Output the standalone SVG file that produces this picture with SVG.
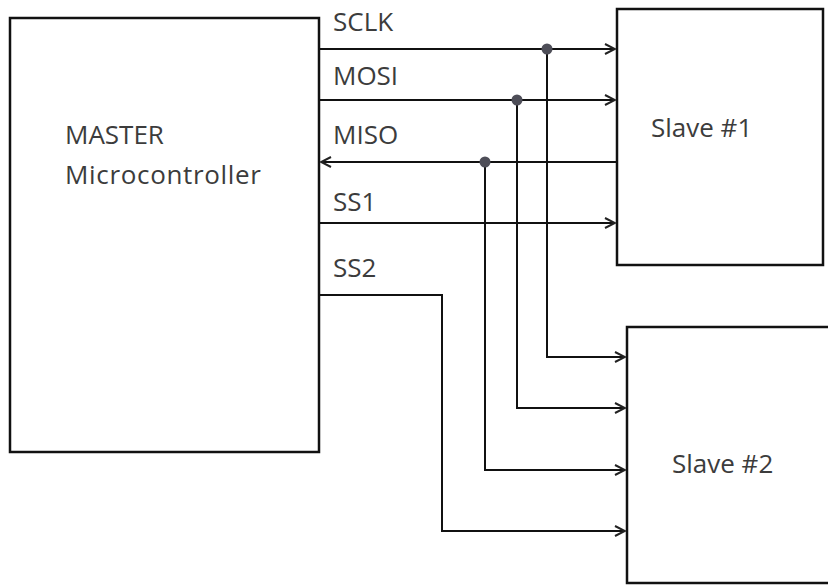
<svg xmlns="http://www.w3.org/2000/svg" width="828" height="588" viewBox="0 0 828 588">
<defs>
<marker id="arr" viewBox="0 0 12 12" refX="11" refY="6" markerWidth="12" markerHeight="12" markerUnits="userSpaceOnUse" orient="auto">
<path d="M1,1 L11,6 L1,11" fill="none" stroke="#222" stroke-width="2"/>
</marker>
</defs>
<style>
.box{fill:#fff;stroke:#111;stroke-width:2.5}
.w{fill:none;stroke:#111;stroke-width:2}
.t{font-family:"Open Sans","Liberation Sans",sans-serif;font-size:26px;fill:#3c3c3c}
.dot{fill:#4e4e58}
</style>
<rect width="828" height="588" fill="#fff"/>
<g id="master">
<rect class="box" x="10" y="18" width="309" height="434"/>
<text class="t" x="65" y="144">MASTER</text>
<text class="t" x="65" y="184" textLength="196">Microcontroller</text>
</g>
<g id="slave1">
<rect class="box" x="617" y="9" width="206" height="256"/>
<text class="t" x="651" y="137">Slave #1</text>
</g>
<g id="slave2">
<rect class="box" x="627" y="327" width="210" height="256"/>
<text class="t" x="672" y="473">Slave #2</text>
</g>
<g id="connectors">
<path class="w" d="M319,49 H615" marker-end="url(#arr)"/>
<path class="w" d="M319,100 H615" marker-end="url(#arr)"/>
<path class="w" d="M617,162 H321" marker-end="url(#arr)"/>
<path class="w" d="M319,223 H615" marker-end="url(#arr)"/>
<path class="w" d="M547,49 V357 H625" marker-end="url(#arr)"/>
<path class="w" d="M517,100 V408 H625" marker-end="url(#arr)"/>
<path class="w" d="M485,162 V470 H625" marker-end="url(#arr)"/>
<path class="w" d="M319,295 H442 V531 H625" marker-end="url(#arr)"/>
<circle class="dot" cx="547" cy="49" r="5.5"/>
<circle class="dot" cx="517" cy="100" r="5.5"/>
<circle class="dot" cx="485" cy="162" r="5.5"/>
<text class="t" x="333" y="31">SCLK</text>
<text class="t" x="333" y="85">MOSI</text>
<text class="t" x="333" y="144">MISO</text>
<text class="t" x="333" y="211">SS1</text>
<text class="t" x="333" y="277">SS2</text>
</g>
</svg>
